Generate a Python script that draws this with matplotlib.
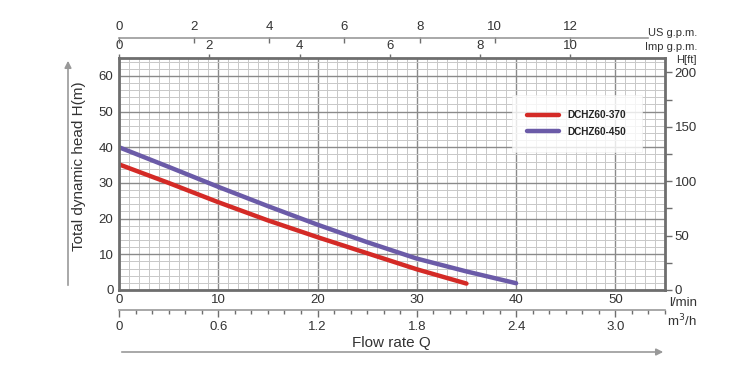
import matplotlib
matplotlib.use("Agg")
import matplotlib.pyplot as plt
from matplotlib.ticker import MultipleLocator, FixedLocator
from matplotlib.lines import Line2D
from matplotlib.patches import FancyArrowPatch

plt.rcParams['font.family'] = ['Liberation Sans', 'DejaVu Sans']

# ---- data ----
flow_370 = [0, 5, 10, 15, 20, 25, 30, 35]
head_370 = [35.2, 30.0, 24.6, 19.5, 14.8, 10.3, 5.8, 1.8]
flow_450 = [0, 5, 10, 15, 20, 25, 30, 35, 40]
head_450 = [40.0, 34.5, 28.9, 23.5, 18.3, 13.4, 8.8, 5.2, 1.9]
series_names = ["DCHZ60-370", "DCHZ60-450"]
series_colors = ["#d42a26", "#6b5ba8"]

lmin_ticks = [0, 10, 20, 30, 40, 50]
head_ticks = [0, 10, 20, 30, 40, 50, 60]
ft_ticks = [0, 50, 100, 150, 200]
imp_ticks = [0, 2, 4, 6, 8, 10]
us_ticks = [0, 2, 4, 6, 8, 10, 12]
m3h_ticks = [0, 0.6, 1.2, 1.8, 2.4, 3.0]
m3h_labels = ["0", "0.6", "1.2", "1.8", "2.4", "3.0"]

W, H = 745, 377
fig = plt.figure(figsize=(W / 100, H / 100), dpi=100)
L, R, B, T = 119, 665, 290, 58
ax = fig.add_axes([L / W, 1 - B / H, (R - L) / W, (B - T) / H])

ax.set_xlim(0, 55)
ax.set_ylim(0, 65)

tc = "#333333"
spc = "#6e6e6e"

# grid
ax.xaxis.set_major_locator(FixedLocator(lmin_ticks))
ax.xaxis.set_minor_locator(MultipleLocator(1))
ax.yaxis.set_major_locator(FixedLocator(head_ticks))
ax.yaxis.set_minor_locator(MultipleLocator(2))
ax.grid(which='minor', color='#c8c8c8', lw=0.7)
ax.grid(which='major', color='#8a8a8a', lw=1.0)
ax.set_axisbelow(True)
ax.tick_params(which='both', length=0, labelsize=9.5, colors=tc, pad=3)
ax.tick_params(axis='y', pad=4)
for s in ax.spines.values():
    s.set_color(spc)
    s.set_linewidth(2)

# curves
ax.plot(flow_370, head_370, color=series_colors[0], lw=3.2, solid_capstyle='round', label=series_names[0])
ax.plot(flow_450, head_450, color=series_colors[1], lw=3.2, solid_capstyle='round', label=series_names[1])

leg = ax.legend(loc='upper right', bbox_to_anchor=(0.957, 0.84), frameon=True, fancybox=False,
                prop={'weight': 'bold', 'size': 7.2}, handlelength=3.2, borderpad=1.5,
                labelspacing=0.65, handletextpad=0.9, borderaxespad=0)
leg.get_frame().set_edgecolor('#eeeeee')
leg.get_frame().set_linewidth(0.5)
for t in leg.get_texts():
    t.set_color('#222222')

# right axis (ft)
axr = ax.twinx()
axr.set_ylim(0, 65 * 3.28084)
axr.yaxis.set_major_locator(FixedLocator(ft_ticks))
axr.yaxis.set_minor_locator(MultipleLocator(25))
axr.tick_params(which='major', length=5, width=1, colors=spc, labelcolor=tc, labelsize=9.5, pad=2)
axr.tick_params(which='minor', length=5, width=1, colors=spc)
for s in axr.spines.values():
    s.set_visible(False)

# top: Imp gpm
IMP = 4.54609
USG = 3.78541
sec_imp = ax.secondary_xaxis('top', functions=(lambda x: x / IMP, lambda x: x * IMP))
sec_imp.xaxis.set_major_locator(FixedLocator(imp_ticks))
sec_imp.tick_params(length=3, width=1, colors=spc, labelcolor=tc, labelsize=9.5, pad=1)
sec_imp.spines['top'].set_visible(False)

# top: US gpm
us_y = 37.5
sec_us = ax.secondary_xaxis((B - us_y) / (B - T), functions=(lambda x: x / USG, lambda x: x * USG))
sec_us.xaxis.set_major_locator(FixedLocator(us_ticks))
sec_us.tick_params(length=4, width=1, direction='in', colors=spc, labelcolor=tc, labelsize=9.5, pad=3)
sec_us.spines['top'].set_visible(False)
fig.add_artist(Line2D([L / W, 648 / W], [1 - us_y / H, 1 - us_y / H], transform=fig.transFigure,
                      color='#999999', lw=1.2))

# bottom: m3/h
sec_m3 = ax.secondary_xaxis(-(310 - B) / (B - T), functions=(lambda x: x * 0.06, lambda x: x / 0.06))
sec_m3.xaxis.set_major_locator(FixedLocator(m3h_ticks))
sec_m3.set_xticklabels(m3h_labels)
sec_m3.xaxis.set_minor_locator(MultipleLocator(0.1))
sec_m3.tick_params(which='major', length=5, width=1, colors=spc, labelcolor=tc, labelsize=9.5, pad=3)
sec_m3.tick_params(which='minor', length=3, width=1, colors=spc)
sec_m3.spines['bottom'].set_color('#999999')
sec_m3.spines['bottom'].set_linewidth(1.2)

# unit labels
def ftxt(x, y, s, **kw):
    fig.text(x / W, 1 - y / H, s, **kw)

ftxt(697, 33, "US g.p.m.", ha='right', va='center', fontsize=8, color=tc)
ftxt(697, 47, "Imp g.p.m.", ha='right', va='center', fontsize=8, color=tc)
ftxt(697, 60, "H[ft]", ha='right', va='center', fontsize=8, color=tc)
ftxt(697, 303, "l/min", ha='right', va='center', fontsize=9.5, color=tc)
ftxt(697, 321, "m$^3$/h", ha='right', va='center', fontsize=9.5, color=tc)

# axis titles with arrows
ftxt(391, 343, "Flow rate Q", ha='center', va='center', fontsize=11, color=tc)
ftxt(79, 166, "Total dynamic head H(m)", ha='center', va='center', fontsize=11, rotation=90, color=tc)

fig.add_artist(FancyArrowPatch((119 / W, 1 - 352 / H), (666 / W, 1 - 352 / H),
               transform=fig.transFigure, arrowstyle='-|>', mutation_scale=10, color='#999999',
               lw=1.2))
fig.add_artist(FancyArrowPatch((68 / W, 1 - 288 / H), (68 / W, 1 - 58 / H),
               transform=fig.transFigure, arrowstyle='-|>', mutation_scale=10, color='#999999',
               lw=1.2))

fig.savefig("out.png", dpi=100)
